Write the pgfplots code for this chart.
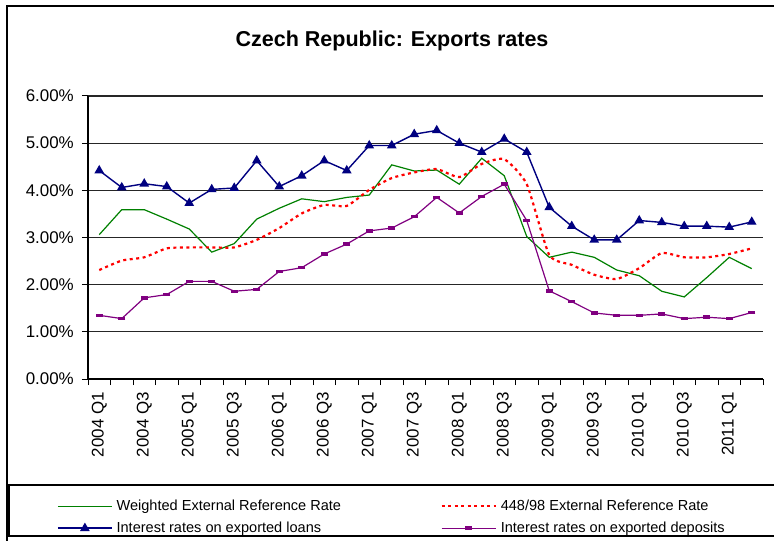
\documentclass[border=0pt]{standalone}
\usepackage{pgfplots}
\pgfplotsset{compat=1.18}
\usepackage{pgfplotstable}
\usepackage{fontspec}
\setmainfont{Liberation Sans}
\definecolor{cgreen}{RGB}{0,128,0}
\definecolor{cred}{RGB}{255,0,0}
\definecolor{cnavy}{RGB}{0,0,128}
\definecolor{cpurple}{RGB}{128,0,128}
\pgfplotstableread{
i W R L D
0 3.06 2.31 4.42 1.35
1 3.59 2.51 4.06 1.28
2 3.59 2.58 4.14 1.72
3 3.39 2.77 4.08 1.79
4 3.18 2.79 3.73 2.07
5 2.69 2.79 4.02 2.07
6 2.87 2.79 4.05 1.86
7 3.39 2.95 4.63 1.90
8 3.62 3.20 4.08 2.28
9 3.82 3.51 4.31 2.36
10 3.76 3.69 4.63 2.65
11 3.85 3.67 4.42 2.86
12 3.90 4.01 4.95 3.14
13 4.54 4.26 4.95 3.20
14 4.41 4.38 5.19 3.44
15 4.43 4.45 5.27 3.85
16 4.13 4.28 5.00 3.52
17 4.68 4.56 4.81 3.87
18 4.31 4.66 5.09 4.13
19 3.02 4.13 4.81 3.36
20 2.58 2.63 3.64 1.87
21 2.69 2.42 3.24 1.64
22 2.58 2.21 2.95 1.40
23 2.31 2.12 2.95 1.35
24 2.19 2.35 3.36 1.35
25 1.86 2.67 3.32 1.38
26 1.74 2.58 3.24 1.28
27 2.15 2.58 3.24 1.31
28 2.58 2.65 3.22 1.28
29 2.34 2.77 3.33 1.41
}\datatable
\begin{document}
\begin{tikzpicture}
\useasboundingbox (0,0) rectangle (774bp,541bp);
\begin{scope}
\clip (0,0) rectangle (774bp,541bp);
\draw[line width=1.3bp,black] (7bp,-10bp) rectangle (790bp,535bp);
\draw[line width=1.1bp,black] (9bp,5bp) rectangle (790bp,56bp);
\node[anchor=base,font=\fontsize{21.6}{24}\selectfont\bfseries] at (392bp,494bp) {Czech Republic: Exports rates};
\begin{axis}[
  at={(88bp,162bp)}, anchor=south west,
  scale only axis, width=675bp, height=283bp,
  xmin=-0.5, xmax=29.5, ymin=0, ymax=6,
  axis x line*=bottom, axis y line*=left,
  axis line style={line width=1.1bp,black},
  xtick={0,2,...,28},
  xticklabels={2004 Q1,2004 Q3,2005 Q1,2005 Q3,2006 Q1,2006 Q3,2007 Q1,2007 Q3,2008 Q1,2008 Q3,2009 Q1,2009 Q3,2010 Q1,2010 Q3,2011 Q1},
  minor xtick={-0.5,0.5,...,29.5},
  major x tick style={draw=none},
  minor x tick style={black,line width=1bp},
  ytick={0,1,...,6},
  yticklabels={0.00\%,1.00\%,2.00\%,3.00\%,4.00\%,5.00\%,6.00\%},
  y tick style={black,line width=1bp},
  tick align=outside,
  major tick length=6bp, minor tick length=6bp,
  ymajorgrids, grid style={black!85,line width=1.1bp},
  tick label style={font=\fontsize{17}{20}\selectfont},
  xticklabel style={rotate=90,anchor=east,inner sep=0pt},
  xticklabel shift=7bp,
  yticklabel style={anchor=east,inner sep=0pt},
  yticklabel shift=8bp,
  legend columns=2,
  legend style={draw=none,fill=none,
    at={(axis description cs:-0.04593,-0.42403)},anchor=north west,
    inner sep=0pt,column sep=0pt,row sep=8bp,
    nodes={inner sep=0pt,text height=11bp,text depth=3bp,font=\fontsize{14.6}{16}\selectfont},
    /tikz/every even column/.append style={column sep=0pt},
    /tikz/every odd column/.append style={column sep=0pt}},
  legend cell align=left,
  legend image code/.code={%
    \draw[mark repeat=2,mark phase=2,#1] plot coordinates {(0bp,0bp) (27bp,0bp) (54bp,0bp)};
    \path (58bp,0bp);},
]
\addplot[cgreen,line width=1.2bp] table[x=i,y=W]{\datatable};
\addlegendentry{\makebox[324bp][l]{Weighted External Reference Rate}}
\addplot[cred,line width=2.2bp,dash pattern=on 3bp off 3.5bp,smooth,tension=0.35] table[x=i,y=R]{\datatable};
\addlegendentry{\makebox[300bp][l]{448/98 External Reference Rate}}
\addplot[cnavy,line width=1.4bp,mark=triangle*,mark size=4.2bp,mark options={solid,fill=cnavy}] table[x=i,y=L]{\datatable};
\addlegendentry{\makebox[324bp][l]{Interest rates on exported loans}}
\addplot[cpurple,line width=1.2bp,mark=-,mark size=3.5bp,mark options={solid,line width=3.5bp}] table[x=i,y=D]{\datatable};
\addlegendentry{\makebox[300bp][l]{Interest rates on exported deposits}}
\end{axis}
\end{scope}
\end{tikzpicture}
\end{document}
